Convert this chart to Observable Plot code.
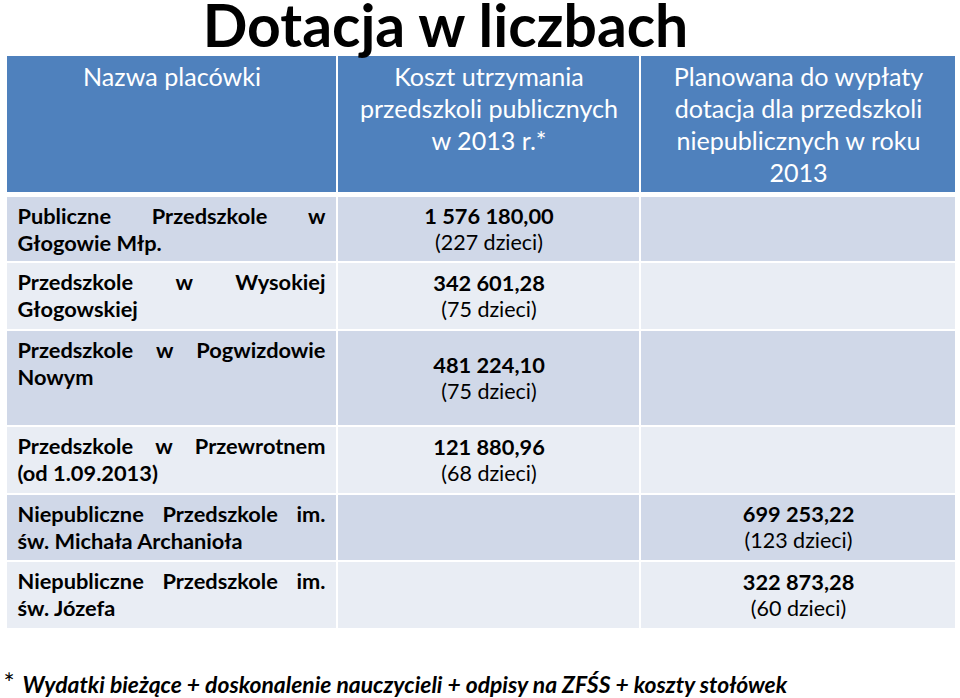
<!DOCTYPE html>
<html lang="pl">
<head>
<meta charset="utf-8">
<script src="https://cdn.jsdelivr.net/npm/d3@7"></script>
<script src="https://cdn.jsdelivr.net/npm/@observablehq/plot@0.6"></script>
<style>
  html, body { margin: 0; padding: 0; background: #fff; }
  #chart { width: 960px; height: 698px; overflow: hidden; }
</style>
</head>
<body>
<div id="chart"></div>
<script>
// ---------------- DATA ----------------
const tytul = "Dotacja w liczbach";
const naglowki = [
  ["Nazwa placówki"],
  ["Koszt utrzymania", "przedszkoli publicznych", "w 2013 r.*"],
  ["Planowana do wypłaty", "dotacja dla przedszkoli", "niepublicznych w roku", "2013"]
];
const placowki = [
  ["Publiczne Przedszkole w", "Głogowie Młp."],
  ["Przedszkole w Wysokiej", "Głogowskiej"],
  ["Przedszkole w Pogwizdowie", "Nowym"],
  ["Przedszkole w Przewrotnem", "(od 1.09.2013)"],
  ["Niepubliczne Przedszkole im.", "św. Michała Archanioła"],
  ["Niepubliczne Przedszkole im.", "św. Józefa"]
];
const kosztUtrzymania = [1576180.00, 342601.28, 481224.10, 121880.96, null, null];
const dzieciPubliczne = [227, 75, 75, 68, null, null];
const dotacja = [null, null, null, null, 699253.22, 322873.28];
const dzieciNiepubliczne = [null, null, null, null, 123, 60];
const przypisZnak = "*";
const przypis = "Wydatki bieżące + doskonalenie nauczycieli + odpisy na ZFŚS + koszty stołówek";

// ---------------- LAYOUT / STYLE ----------------
const W = 960, H = 698;
const FONT = "Lato";
const tableLeft = 7, colWidths = [329, 301, 314], colGap = 2;
const tableTop = 56, rowHeights = [136, 64, 66, 94, 66, 65, 66], rowGaps = [5, 2, 2, 2, 2, 2];
const padX = 10;
const headFirst = 29, headStep = 32.3;
const nameFirst = 26, nameStep = 27.5;
const valOffset1 = -6, valOffset2 = 20;
const titleX = 445, titleBase = 46;
const noteStarX = 3, noteX = 22, noteBase = 692;
const colors = {header: "#4F81BD", dark: "#D0D8E8", light: "#E9EDF4", headText: "#FFFFFF", text: "#000000"};

const cols = []; { let x = tableLeft; colWidths.forEach(w => { cols.push({x1: x, x2: x + w, cx: x + w / 2}); x += w + colGap; }); }
const rows = []; { let y = tableTop; rowHeights.forEach((h, i) => { rows.push({y1: y, y2: y + h, cy: y + h / 2}); y += h + (rowGaps[i] || 0); }); }

// font fitting (width of reference strings)
const ctx = document.createElement("canvas").getContext("2d");
const measure = (text, size, weight = "normal", style = "normal") => { ctx.font = `${style} ${weight} ${size}px ${FONT}`; return ctx.measureText(text).width; };
const fit = (text, target, weight, style) => 100 * target / measure(text, 100, weight, style);
const fsTitle = fit(tytul, 488, "bold");
const fsHead = fit(naglowki[2][0], 250, "normal");
const fsBold = fit(placowki[4][1], 226, "bold");
const fsReg = fit("(123 dzieci)", 108, "normal");
const fsNote = fit(przypis, 766, "bold", "italic");
const fsStar = fsNote * 1.15;

const fmt = d3.formatLocale({decimal: ",", thousands: " ", grouping: [3], currency: ["", ""]}).format(",.2f");

// ---------------- BUILD MARK DATA ----------------
const cells = [];
rows.forEach((r, i) => cols.forEach(c => cells.push({
  x1: c.x1, x2: c.x2, y1: r.y1, y2: r.y2,
  fill: i === 0 ? colors.header : (i % 2 === 1 ? colors.dark : colors.light)
})));

const headTexts = [];
naglowki.forEach((lines, c) => lines.forEach((t, i) =>
  headTexts.push({text: t, x: cols[c].cx, y: rows[0].y1 + headFirst + i * headStep})));

const nameTexts = [];
const innerL = cols[0].x1 + padX, innerR = cols[0].x2 - padX - 1, innerW = innerR - innerL;
placowki.forEach((lines, r) => {
  const row = rows[r + 1];
  lines.forEach((line, i) => {
    const yb = row.y1 + nameFirst + i * nameStep;
    const words = line.split(" ");
    if (i === lines.length - 1 || words.length < 2) {
      nameTexts.push({text: line, x: innerL, y: yb});
    } else {
      const ws = words.map(w => measure(w, fsBold, "bold"));
      const gap = (innerW - d3.sum(ws)) / (words.length - 1);
      let xx = innerL;
      words.forEach((w, k) => { nameTexts.push({text: w, x: xx, y: yb}); xx += ws[k] + gap; });
    }
  });
});

const valBold = [], valReg = [];
function addValues(values, kids, col) {
  values.forEach((v, r) => {
    if (v == null) return;
    const row = rows[r + 1];
    valBold.push({text: fmt(v), x: cols[col].cx, y: row.cy + valOffset1});
    valReg.push({text: `(${kids[r]} dzieci)`, x: cols[col].cx, y: row.cy + valOffset2});
  });
}
addValues(kosztUtrzymania, dzieciPubliczne, 1);
addValues(dotacja, dzieciNiepubliczne, 2);

// ---------------- PLOT ----------------
const plot = Plot.plot({
  width: W, height: H, margin: 0,
  x: {domain: [0, W], range: [0, W], axis: null},
  y: {domain: [0, H], range: [0, H], axis: null},
  color: {type: "identity"},
  style: {fontFamily: FONT, background: "#fff"},
  marks: [
    Plot.rect(cells, {x1: "x1", x2: "x2", y1: "y1", y2: "y2", fill: "fill"}),
    Plot.text([{text: tytul, x: titleX, y: titleBase}], {x: "x", y: "y", text: "text", fontSize: fsTitle, fontWeight: "bold", textAnchor: "middle", lineAnchor: "bottom", fill: colors.text}),
    Plot.text(headTexts, {x: "x", y: "y", text: "text", fontSize: fsHead, textAnchor: "middle", lineAnchor: "bottom", fill: colors.headText}),
    Plot.text(nameTexts, {x: "x", y: "y", text: "text", fontSize: fsBold, fontWeight: "bold", textAnchor: "start", lineAnchor: "bottom", fill: colors.text}),
    Plot.text(valBold, {x: "x", y: "y", text: "text", fontSize: fsBold, fontWeight: "bold", textAnchor: "middle", lineAnchor: "bottom", fill: colors.text}),
    Plot.text(valReg, {x: "x", y: "y", text: "text", fontSize: fsReg, textAnchor: "middle", lineAnchor: "bottom", fill: colors.text}),
    Plot.text([{text: przypisZnak, x: noteStarX, y: noteBase}], {x: "x", y: "y", text: "text", fontSize: fsStar, textAnchor: "start", lineAnchor: "bottom", fill: colors.text}),
    Plot.text([{text: przypis, x: noteX, y: noteBase}], {x: "x", y: "y", text: "text", fontSize: fsNote, fontWeight: "bold", fontStyle: "italic", textAnchor: "start", lineAnchor: "bottom", fill: colors.text})
  ]
});
document.getElementById("chart").appendChild(plot);
</script>
</body>
</html>
